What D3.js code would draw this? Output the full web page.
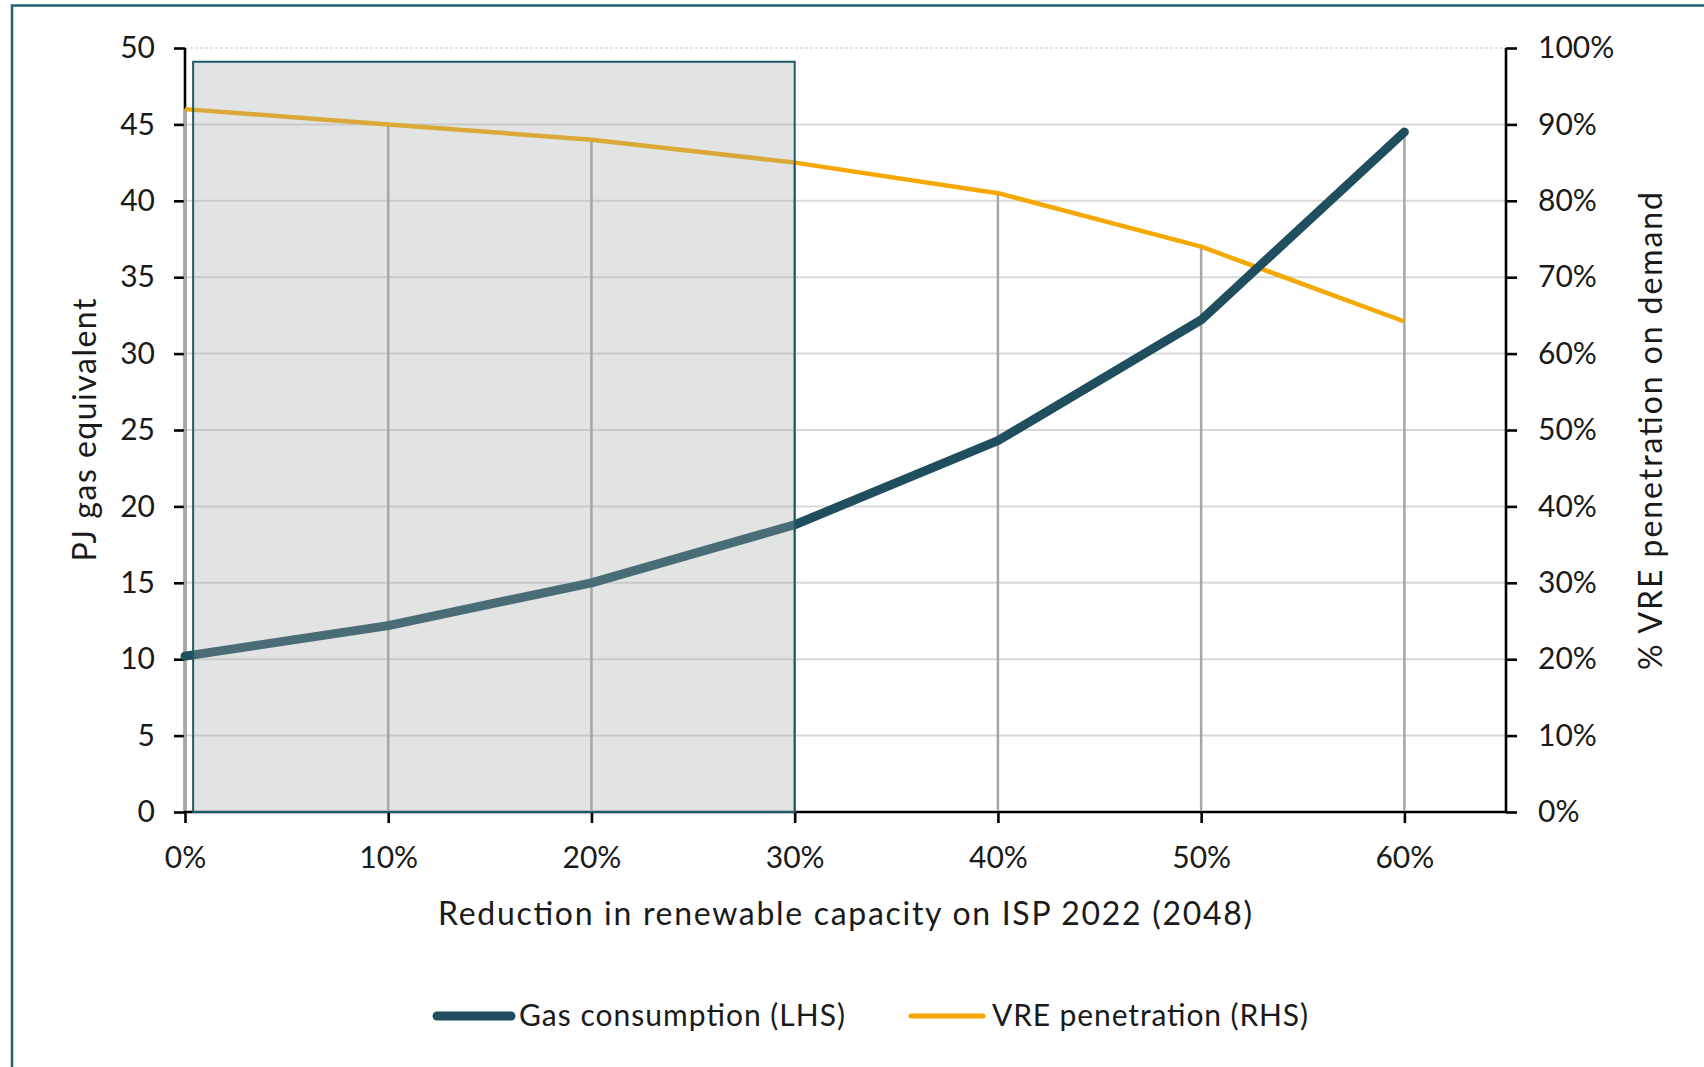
<!DOCTYPE html>
<html>
<head>
<meta charset="utf-8">
<script src="https://cdn.jsdelivr.net/npm/d3@7"></script>
<style>
  html, body { margin: 0; padding: 0; background: #ffffff; }
  svg { display: block; }
  text { font-family: Lato, "Open Sans", "Noto Sans", sans-serif; fill: #1a1a1a; }
</style>
</head>
<body>
<svg id="chart" width="1704" height="1067"></svg>
<script>
// ---- data ----
const categories = [0, 0.1, 0.2, 0.3, 0.4, 0.5, 0.6];
const categoryLabels = ["0%", "10%", "20%", "30%", "40%", "50%", "60%"];
const gasConsumption = [10.2, 12.2, 15.0, 18.8, 24.3, 32.2, 44.5];   // PJ (LHS)
const vrePenetration = [0.92, 0.90, 0.88, 0.85, 0.81, 0.74, 0.642]; // share (RHS)
const leftTicks = [0, 5, 10, 15, 20, 25, 30, 35, 40, 45, 50];
const rightTicks = [0, 0.1, 0.2, 0.3, 0.4, 0.5, 0.6, 0.7, 0.8, 0.9, 1.0];
const seriesNames = ["Gas consumption (LHS)", "VRE penetration (RHS)"];
const highlightX = [0.004, 0.30];   // shaded region, in x units
const highlightTop = 49.1;          // in LHS units
const xTitle = "Reduction in renewable capacity on ISP 2022 (2048)";
const yLeftTitle = "PJ gas equivalent";
const yRightTitle = "% VRE penetration on demand";

// ---- layout ----
const L = 185, R = 1506, T = 48, B = 812;
const svg = d3.select("#chart");

const x = d3.scaleLinear().domain([0, 0.65]).range([L, R]);
const yL = d3.scaleLinear().domain([0, 50]).range([B, T]);
const yR = d3.scaleLinear().domain([0, 1]).range([B, T]);

const gasColor = "#1f4f5f";
const vreColor = "#f5a800";

// outer frame
svg.append("path")
  .attr("d", "M12,1067 L12,5.5 L1704,5.5")
  .attr("fill", "none").attr("stroke", "#1d6470").attr("stroke-width", 2.5);

// horizontal gridlines
svg.append("g").selectAll("line").data(leftTicks.filter(d => d > 0)).join("line")
  .attr("x1", L).attr("x2", R)
  .attr("y1", d => yL(d)).attr("y2", d => yL(d))
  .attr("stroke", d => d === 50 ? "#e3e3e3" : "#d9d9d9")
  .attr("stroke-width", 2)
  .attr("stroke-dasharray", d => d === 50 ? "3,2" : null);

// left axis
const axL = d3.axisLeft(yL).tickValues(leftTicks).tickSize(11).tickPadding(19).tickFormat(d3.format("d"));
const gL = svg.append("g").attr("transform", `translate(${L},0)`).call(axL);
// right axis
const axR = d3.axisRight(yR).tickValues(rightTicks).tickSize(11).tickPadding(21).tickFormat(d3.format(".0%"));
const gR = svg.append("g").attr("transform", `translate(${R},0)`).call(axR);
// bottom axis
const axB = d3.axisBottom(x).tickValues(categories).tickSize(11).tickPadding(24)
  .tickFormat((d, i) => categoryLabels[i]);
const gB = svg.append("g").attr("transform", `translate(0,${B})`).call(axB);

[gL, gR, gB].forEach(g => {
  g.select(".domain").attr("stroke", "#000").attr("stroke-width", 2.6);
  g.selectAll(".tick line").attr("stroke", "#000").attr("stroke-width", 2.6);
  g.selectAll(".tick text").attr("font-size", 30).attr("fill", "#1a1a1a")
    .style("font-family", "Lato, 'Open Sans', sans-serif");
});
gL.select(".domain").attr("d", `M0,${T}V${B}`);
gR.select(".domain").attr("d", `M0,${T}V${B}`);
gB.select(".domain").attr("d", `M${L},0H${R}`);

// drop lines (from highest point of each category down to axis)
svg.append("g").selectAll("line").data(categories).join("line")
  .attr("x1", d => x(d)).attr("x2", d => x(d))
  .attr("y1", (d, i) => Math.min(yL(gasConsumption[i]), yR(vrePenetration[i])))
  .attr("y2", B - 1.3)
  .attr("stroke", "#a6a6a6").attr("stroke-width", 2.5);

// series lines
const gasLine = d3.line().x((d, i) => x(categories[i])).y(d => yL(d));
const vreLine = d3.line().x((d, i) => x(categories[i])).y(d => yR(d));

svg.append("path").datum(vrePenetration)
  .attr("d", vreLine).attr("fill", "none")
  .attr("stroke", vreColor).attr("stroke-width", 4.5).attr("stroke-linejoin", "round");

svg.append("path").datum(gasConsumption)
  .attr("d", gasLine).attr("fill", "none")
  .attr("stroke", gasColor).attr("stroke-width", 9)
  .attr("stroke-linejoin", "round").attr("stroke-linecap", "round");

// shaded highlight (semi-transparent overlay)
svg.append("rect")
  .attr("x", x(highlightX[0])).attr("y", yL(highlightTop))
  .attr("width", x(highlightX[1]) - x(highlightX[0]))
  .attr("height", yL(0) - yL(highlightTop))
  .attr("fill", "#a5aaaa").attr("fill-opacity", 0.32)
  .attr("stroke", "#1f5a68").attr("stroke-width", 2);

// axis titles
svg.append("text")
  .attr("transform", `translate(96,430) rotate(-90)`)
  .attr("text-anchor", "middle").attr("font-size", 32)
  .attr("textLength", 263).attr("lengthAdjust", "spacing")
  .text(yLeftTitle);
svg.append("text")
  .attr("transform", `translate(1662,431) rotate(-90)`)
  .attr("text-anchor", "middle").attr("font-size", 32)
  .attr("textLength", 478).attr("lengthAdjust", "spacing")
  .text(yRightTitle);
svg.append("text")
  .attr("x", 845).attr("y", 925)
  .attr("text-anchor", "middle").attr("font-size", 32)
  .attr("textLength", 814).attr("lengthAdjust", "spacing")
  .text(xTitle);

// legend
const legend = [
  { name: seriesNames[0], color: gasColor, w: 9, x0: 437, x1: 511, tx: 519, tw: 326 },
  { name: seriesNames[1], color: vreColor, w: 5, x0: 911, x1: 983, tx: 992, tw: 316 }
];
const lg = svg.append("g");
lg.selectAll("line").data(legend).join("line")
  .attr("x1", d => d.x0).attr("x2", d => d.x1)
  .attr("y1", 1016).attr("y2", 1016)
  .attr("stroke", d => d.color).attr("stroke-width", d => d.w)
  .attr("stroke-linecap", "round");
lg.selectAll("text").data(legend).join("text")
  .attr("x", d => d.tx).attr("y", 1026)
  .attr("font-size", 30)
  .attr("textLength", d => d.tw).attr("lengthAdjust", "spacing")
  .text(d => d.name);
</script>
</body>
</html>
